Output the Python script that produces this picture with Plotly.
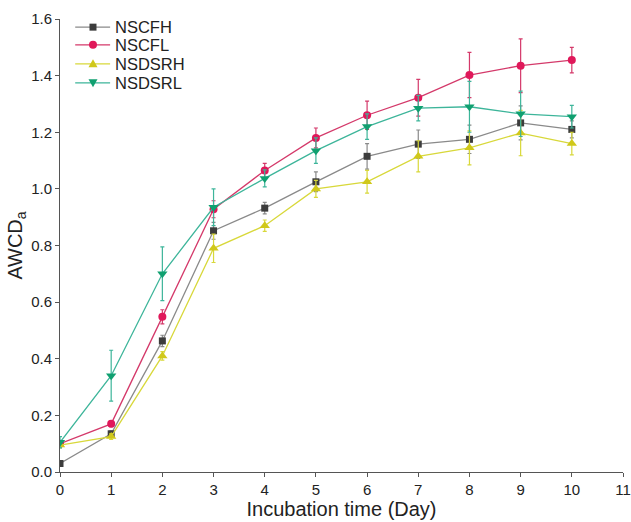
import plotly.graph_objects as go

# incubation days
days = [0, 1, 2, 3, 4, 5, 6, 7, 8, 9, 10]

# AWCD values
nscfh = [0.03, 0.135, 0.463, 0.852, 0.932, 1.025, 1.115, 1.158, 1.175, 1.233, 1.21]
nscfl = [0.10, 0.17, 0.548, 0.928, 1.065, 1.18, 1.26, 1.322, 1.402, 1.435, 1.455]
nsdsrh = [0.095, 0.125, 0.41, 0.79, 0.87, 1.00, 1.025, 1.115, 1.145, 1.197, 1.16]
nsdsrl = [0.105, 0.34, 0.70, 0.935, 1.037, 1.135, 1.22, 1.285, 1.29, 1.265, 1.255]

# standard errors (approx.)
nscfh_err = [0.01, 0.01, 0.02, 0.03, 0.02, 0.035, 0.045, 0.05, 0.05, 0.06, 0.03]
nscfl_err = [0.01, 0.01, 0.025, 0.03, 0.025, 0.035, 0.05, 0.065, 0.08, 0.095, 0.045]
nsdsrh_err = [0.01, 0.01, 0.015, 0.05, 0.02, 0.03, 0.04, 0.055, 0.06, 0.08, 0.04]
nsdsrl_err = [0.02, 0.09, 0.095, 0.065, 0.03, 0.045, 0.045, 0.045, 0.09, 0.08, 0.04]

series = [
    ("NSCFH", nscfh, nscfh_err, "#8a8a8a", "#3c3c3c", "square", 7),
    ("NSCFL", nscfl, nscfl_err, "#d4396a", "#e0185a", "circle", 8),
    ("NSDSRH", nsdsrh, nsdsrh_err, "#d8d83a", "#d0c81a", "triangle-up", 9),
    ("NSDSRL", nsdsrl, nsdsrl_err, "#3db59a", "#10a070", "triangle-down", 9),
]

fig = go.Figure()
for name, vals, err, lcol, mcol, sym, size in series:
    fig.add_trace(go.Scatter(
        x=days, y=vals, name=name,
        mode="lines+markers",
        line=dict(color=lcol, width=1.3),
        marker=dict(symbol=sym, size=size, color=mcol),
        error_y=dict(type="data", array=err, color=lcol, thickness=1.2, width=2),
        showlegend=False,
    ))

# hand-built legend (plotly's own rows are too far apart)
leg_rows = [0.982, 0.943, 0.901, 0.859]
marker_paths = {
    "square": "M -3.5,-3.5 L 3.5,-3.5 L 3.5,3.5 L -3.5,3.5 Z",
    "triangle-up": "M -4.5,-3.5 L 4.5,-3.5 L 0,4.5 Z",
    "triangle-down": "M -4.5,3.5 L 4.5,3.5 L 0,-4.5 Z",
}
for (name, _, _, lcol, mcol, sym, _), ly in zip(series, leg_rows):
    fig.add_shape(type="line", xref="paper", yref="paper",
                  x0=0.027, x1=0.089, y0=ly, y1=ly,
                  line=dict(color=lcol, width=1.3))
    if sym == "circle":
        fig.add_shape(type="circle", xref="paper", yref="paper",
                      xsizemode="pixel", ysizemode="pixel",
                      xanchor=0.0586, yanchor=ly, x0=-4, x1=4, y0=-4, y1=4,
                      fillcolor=mcol, line=dict(width=0))
    else:
        fig.add_shape(type="path", xref="paper", yref="paper",
                      xsizemode="pixel", ysizemode="pixel",
                      xanchor=0.0586, yanchor=ly, path=marker_paths[sym],
                      fillcolor=mcol, line=dict(width=0))
    fig.add_annotation(text=name, xref="paper", yref="paper",
                       x=0.0941, y=ly, xanchor="left", yanchor="middle",
                       showarrow=False, font=dict(size=16.5))

fig.update_layout(
    width=631, height=522,
    paper_bgcolor="white", plot_bgcolor="white",
    margin=dict(l=60, r=8, t=19, b=50),
    font=dict(family="Liberation Sans, Arial, sans-serif", color="#222", size=15),
)
fig.update_xaxes(
    range=[0, 11], tickmode="linear", tick0=0, dtick=1,
    showline=True, linecolor="#555", linewidth=1,
    ticks="outside", ticklen=4, tickcolor="#555",
    showgrid=False, zeroline=False, automargin=False,
    title=dict(text="Incubation time (Day)", font=dict(size=20), standoff=4),
)
fig.update_yaxes(
    range=[0, 1.6], tickmode="linear", tick0=0, dtick=0.2, tickformat=".1f",
    showline=True, linecolor="#555", linewidth=1,
    ticks="outside", ticklen=4, tickcolor="#555",
    showgrid=False, zeroline=False, automargin=False,
    title=dict(text="AWCD<sub>a</sub>", font=dict(size=20), standoff=3),
)

# page body has a default 8px margin; drop it so the figure sits at the corner
fig.write_html("out.html", config={"displayModeBar": False},
               post_script="document.body.style.margin='0';")
